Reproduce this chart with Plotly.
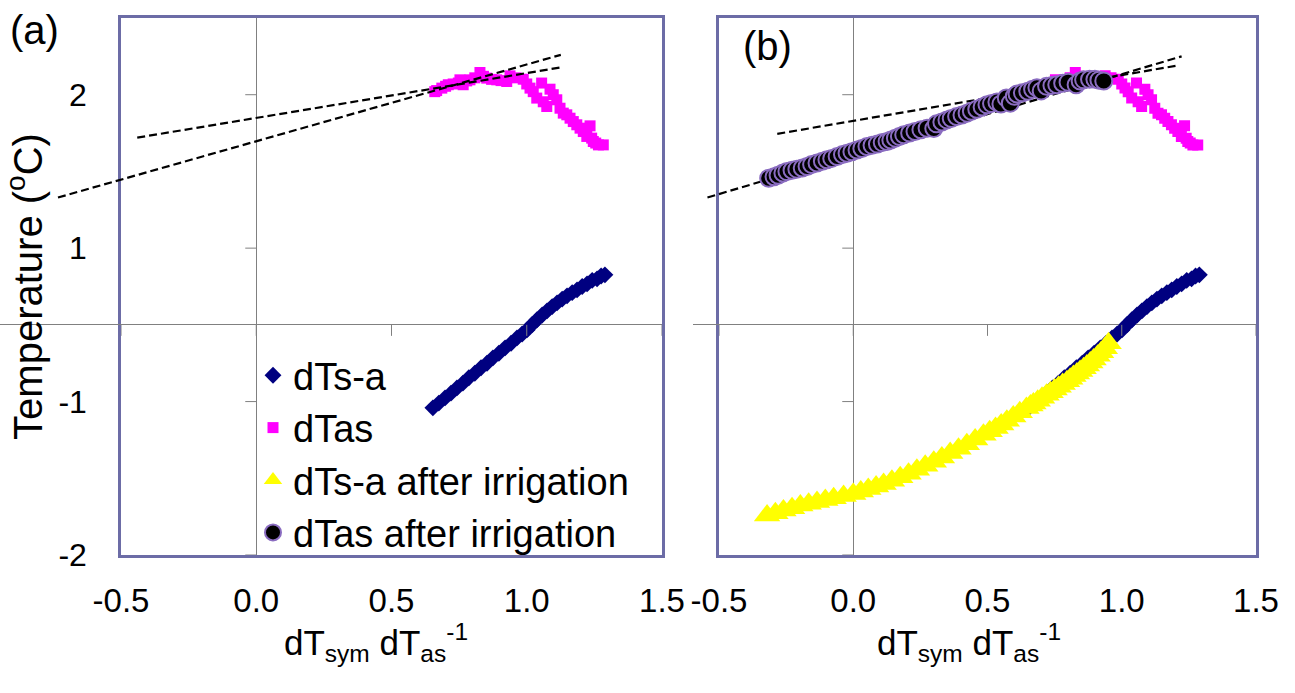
import plotly.graph_objects as go

# ---------------- data ----------------
# dTs-a (navy diamonds) – same series in both panels
dtsa_x = [0.653, 0.675, 0.698, 0.720, 0.742, 0.764, 0.786, 0.808, 0.831, 0.853, 0.875,
          0.897, 0.920, 0.942, 0.964, 0.983, 1.001, 1.020, 1.038, 1.057, 1.075, 1.094,
          1.112, 1.131, 1.149, 1.168, 1.186, 1.205, 1.223, 1.242, 1.260, 1.275, 1.289]
dtsa_y = [-0.541, -0.510, -0.476, -0.445, -0.411, -0.380, -0.345, -0.315, -0.280, -0.250,
          -0.215, -0.185, -0.150, -0.120, -0.085, -0.060, -0.033, 0.002, 0.033, 0.064,
          0.091, 0.119, 0.143, 0.168, 0.189, 0.210, 0.228, 0.250, 0.267, 0.290, 0.300,
          0.318, 0.326]

# dTas (magenta squares) – same series in both panels
dtas_x = [0.660, 0.667, 0.686, 0.700, 0.710, 0.728, 0.747, 0.753, 0.765, 0.778, 0.790,
          0.808, 0.827, 0.840, 0.852, 0.870, 0.889, 0.905, 0.926, 0.938, 0.960, 0.987,
          1.000, 1.012, 1.024, 1.037, 1.055, 1.061, 1.074, 1.086, 1.098, 1.111, 1.123,
          1.135, 1.148, 1.160, 1.172, 1.185, 1.197, 1.209, 1.222, 1.234, 1.240, 1.246,
          1.255, 1.265, 1.283]
dtas_y = [1.520, 1.527, 1.543, 1.555, 1.565, 1.570, 1.576, 1.597, 1.565, 1.590, 1.597,
          1.610, 1.645, 1.620, 1.608, 1.600, 1.597, 1.592, 1.586, 1.623, 1.610, 1.601,
          1.570, 1.543, 1.520, 1.478, 1.576, 1.454, 1.423, 1.536, 1.500, 1.467, 1.412,
          1.380, 1.369, 1.347, 1.325, 1.304, 1.282, 1.260, 1.228, 1.297, 1.217, 1.195,
          1.185, 1.173, 1.173]

# dTs-a after irrigation (yellow triangles) – panel (b)
irr_tsa_x = [-0.321, -0.290, -0.260, -0.228, -0.197, -0.166, -0.135, -0.104, -0.073,
             -0.036, 0.000, 0.028, 0.056, 0.085, 0.113, 0.144, 0.175, 0.206, 0.237,
             0.268, 0.300, 0.330, 0.361, 0.392, 0.423, 0.454, 0.485, 0.508, 0.530,
             0.551, 0.572, 0.596, 0.620, 0.645, 0.660, 0.671, 0.687, 0.703, 0.720,
             0.735, 0.750, 0.765, 0.780, 0.796, 0.808, 0.820, 0.833, 0.845, 0.858,
             0.870, 0.883, 0.895, 0.910, 0.923, 0.937, 0.951]
irr_tsa_y = [-1.243, -1.228, -1.210, -1.195, -1.178, -1.166, -1.154, -1.142, -1.130,
             -1.116, -1.102, -1.086, -1.070, -1.054, -1.037, -1.016, -0.993, -0.970,
             -0.945, -0.919, -0.892, -0.864, -0.836, -0.807, -0.778, -0.748, -0.717,
             -0.694, -0.672, -0.650, -0.625, -0.598, -0.570, -0.542, -0.525, -0.512,
             -0.494, -0.475, -0.456, -0.440, -0.422, -0.404, -0.386, -0.368, -0.352,
             -0.334, -0.317, -0.300, -0.283, -0.265, -0.246, -0.226, -0.202, -0.178,
             -0.152, -0.120]

# dTas after irrigation (black circles) – panel (b)
irr_tas_x = [-0.315, -0.295, -0.280, -0.262, -0.247, -0.228, -0.210, -0.190, -0.172,
             -0.155, -0.135, -0.115, -0.098, -0.080, -0.060, -0.040, -0.023, -0.005,
             0.014, 0.032, 0.051, 0.070, 0.090, 0.108, 0.126, 0.140, 0.157, 0.172, 0.188,
             0.210, 0.230, 0.252, 0.275, 0.300, 0.310, 0.330, 0.349, 0.365, 0.385, 0.405,
             0.424, 0.440, 0.460, 0.480, 0.498, 0.515, 0.535, 0.550, 0.570, 0.585, 0.600,
             0.610, 0.630, 0.650, 0.668, 0.684, 0.700, 0.720, 0.740, 0.758, 0.780, 0.800,
             0.830, 0.845, 0.858, 0.880, 0.900, 0.915, 0.933]
irr_tas_y = [0.956, 0.965, 0.975, 0.990, 0.999, 1.008, 1.015, 1.022, 1.032, 1.045, 1.055,
             1.066, 1.076, 1.085, 1.097, 1.110, 1.119, 1.128, 1.140, 1.150, 1.162, 1.170,
             1.178, 1.188, 1.195, 1.205, 1.217, 1.228, 1.239, 1.250, 1.260, 1.272, 1.282,
             1.280, 1.310, 1.322, 1.336, 1.345, 1.358, 1.368, 1.380, 1.392, 1.405, 1.420,
             1.434, 1.442, 1.452, 1.440, 1.478, 1.445, 1.490, 1.505, 1.512, 1.523, 1.535,
             1.545, 1.525, 1.555, 1.560, 1.565, 1.575, 1.582, 1.565, 1.590, 1.597, 1.600,
             1.600, 1.595, 1.590]

# dashed trend lines (end points)
trend_a1_x = [-0.733, 1.126]
trend_a1_y = [0.830, 1.760]
trend_a2_x = [-0.440, 1.133]
trend_a2_y = [1.220, 1.680]
trend_b1_x = [-0.543, 1.223]
trend_b1_y = [0.830, 1.750]
trend_b2_x = [-0.283, 1.208]
trend_b2_y = [1.245, 1.690]

# axis ticks
x_ticks = [-0.5, 0.0, 0.5, 1.0, 1.5]
x_ticktext = ["-0.5", "0.0", "0.5", "1.0", "1.5"]
y_ticks = [-1.5, -0.5, 0.5, 1.5]
y_ticktext = ["-2", "-1", "1", "2"]
x_range = [-0.5, 1.5]
y_range = [-1.5, 2.0]

X_TITLE = "dT<sub>sym</sub> dT<sub>as</sub><sup>-1</sup>"
Y_TITLE = "Temperature (<sup>o</sup>C)"

# ---------------- styling ----------------
W, H = 1295, 693
FONT = "Liberation Sans, Arial, sans-serif"
BOX = "#6c6ca6"
AXC = "#808080"

xa_dom = [121 / W, 662 / W]
xb_dom = [719 / W, 1256 / W]
y_dom = [(H - 555) / H, (H - 18) / H]


def wide_range(dom, left):
    per = (dom[1] - dom[0]) / (x_range[1] - x_range[0])
    return [x_range[1] - (dom[1] - left) / per, x_range[1]]


xa_wide_dom = [0.0, xa_dom[1]]
xb_wide_dom = [0.535, xb_dom[1]]

fig = go.Figure()

dash_line = dict(color="black", width=2.2, dash="8px,4px")

# ---- panel (a) ----
fig.add_trace(go.Scatter(x=dtsa_x, y=dtsa_y, mode="markers", name="dTs-a",
                         marker=dict(symbol="diamond", size=13, color="#000080"),
                         xaxis="x5", yaxis="y", legendrank=1))
fig.add_trace(go.Scatter(x=dtas_x, y=dtas_y, mode="markers", name="dTas",
                         marker=dict(symbol="square", size=11, color="#ff00ff"),
                         xaxis="x5", yaxis="y", legendrank=2))
for tx, ty in [(trend_a1_x, trend_a1_y), (trend_a2_x, trend_a2_y)]:
    fig.add_trace(go.Scatter(x=tx, y=ty, mode="lines", line=dash_line,
                             showlegend=False, xaxis="x5", yaxis="y"))

# ---- panel (b) ----
fig.add_trace(go.Scatter(x=dtas_x, y=dtas_y, mode="markers", name="dTas",
                         marker=dict(symbol="square", size=11, color="#ff00ff"),
                         xaxis="x6", yaxis="y2", showlegend=False))
fig.add_trace(go.Scatter(x=dtsa_x, y=dtsa_y, mode="markers", name="dTs-a",
                         marker=dict(symbol="diamond", size=13, color="#000080"),
                         xaxis="x6", yaxis="y2", showlegend=False))
for tx, ty in [(trend_b1_x, trend_b1_y), (trend_b2_x, trend_b2_y)]:
    fig.add_trace(go.Scatter(x=tx, y=ty, mode="lines", line=dash_line,
                             showlegend=False, xaxis="x6", yaxis="y2"))
fig.add_trace(go.Scatter(x=irr_tsa_x, y=irr_tsa_y, mode="markers",
                         name="dTs-a after irrigation",
                         marker=dict(symbol="triangle-up", size=23, color="#ffff00"),
                         xaxis="x6", yaxis="y2", legendrank=3))
fig.add_trace(go.Scatter(x=irr_tas_x, y=irr_tas_y, mode="markers",
                         name="dTas after irrigation",
                         marker=dict(symbol="circle", size=17, color="black",
                                     line=dict(color="#8a6cc0", width=2)),
                         xaxis="x6", yaxis="y2", legendrank=4))

common_x = dict(range=x_range, tickvals=x_ticks, ticktext=x_ticktext, ticks="",
                showline=True, mirror=True, linecolor=BOX, linewidth=2.5,
                zeroline=True, zerolinecolor=AXC, zerolinewidth=1, showgrid=False,
                automargin=False,
                tickfont=dict(family=FONT, size=33, color="black"),
                ticklabelstandoff=15)
common_y = dict(range=y_range, tickvals=y_ticks, ticktext=y_ticktext, ticks="",
                showline=True, mirror=True, linecolor=BOX, linewidth=2.5,
                zeroline=True, zerolinecolor=AXC, zerolinewidth=1, showgrid=False,
                automargin=False, domain=y_dom)

fig.update_layout(
    width=W, height=H,
    margin=dict(l=0, r=0, t=0, b=0, autoexpand=False),
    paper_bgcolor="white", plot_bgcolor="rgba(0,0,0,0)",
    font=dict(family=FONT, color="black"),
    xaxis=dict(domain=xa_dom, anchor="y", **common_x),
    yaxis=dict(anchor="x", showticklabels=True, ticklabelstandoff=25,
               tickfont=dict(family=FONT, size=32, color="black"),
               title=dict(text=Y_TITLE,
                          font=dict(family=FONT, size=40, color="black"), standoff=18),
               **common_y),
    xaxis2=dict(domain=xb_dom, anchor="y2", **common_x),
    yaxis2=dict(anchor="x2", showticklabels=False, **common_y),
    xaxis5=dict(domain=xa_wide_dom, range=wide_range(xa_dom, xa_wide_dom[0]),
                anchor="y", visible=False),
    xaxis6=dict(domain=xb_wide_dom, range=wide_range(xb_dom, xb_wide_dom[0]),
                anchor="y2", visible=False),
    legend=dict(x=253 / W, xanchor="left", y=(H - 344) / H, yanchor="top",
                bgcolor="rgba(0,0,0,0)", font=dict(family=FONT, size=38, color="black"),
                itemsizing="trace", tracegroupgap=0),
    showlegend=True,
    annotations=[
        dict(text="(a)", x=8 / W, y=(H - 6) / H, xref="paper", yref="paper",
             xanchor="left", yanchor="top",
             showarrow=False, font=dict(family=FONT, size=40, color="black")),
        dict(text="(b)", x=741 / W, y=(H - 22) / H, xref="paper", yref="paper",
             xanchor="left", yanchor="top",
             showarrow=False, font=dict(family=FONT, size=40, color="black")),
        # x-axis titles
        dict(text=X_TITLE, x=376 / W, y=(H - 642) / H, xref="paper", yref="paper",
             xanchor="center", yanchor="middle",
             showarrow=False, font=dict(family=FONT, size=35, color="black")),
        dict(text=X_TITLE, x=969 / W, y=(H - 642) / H, xref="paper", yref="paper",
             xanchor="center", yanchor="middle",
             showarrow=False, font=dict(family=FONT, size=35, color="black")),
    ],
)

# tick marks on the crossing (zero) axis lines
shapes = []
for xr, yr in [("x", "y"), ("x2", "y2")]:
    for v in x_ticks:
        shapes.append(dict(type="line", xref=xr, yref=yr, x0=v, x1=v,
                           ysizemode="pixel", yanchor=0, y0=0, y1=-11,
                           line=dict(color=AXC, width=1)))
    for v in y_ticks:
        shapes.append(dict(type="line", xref=xr, yref=yr, y0=v, y1=v,
                           xsizemode="pixel", xanchor=0, x0=-11, x1=0,
                           line=dict(color=AXC, width=1)))
fig.update_layout(shapes=shapes)

fig.write_html("out.html")
